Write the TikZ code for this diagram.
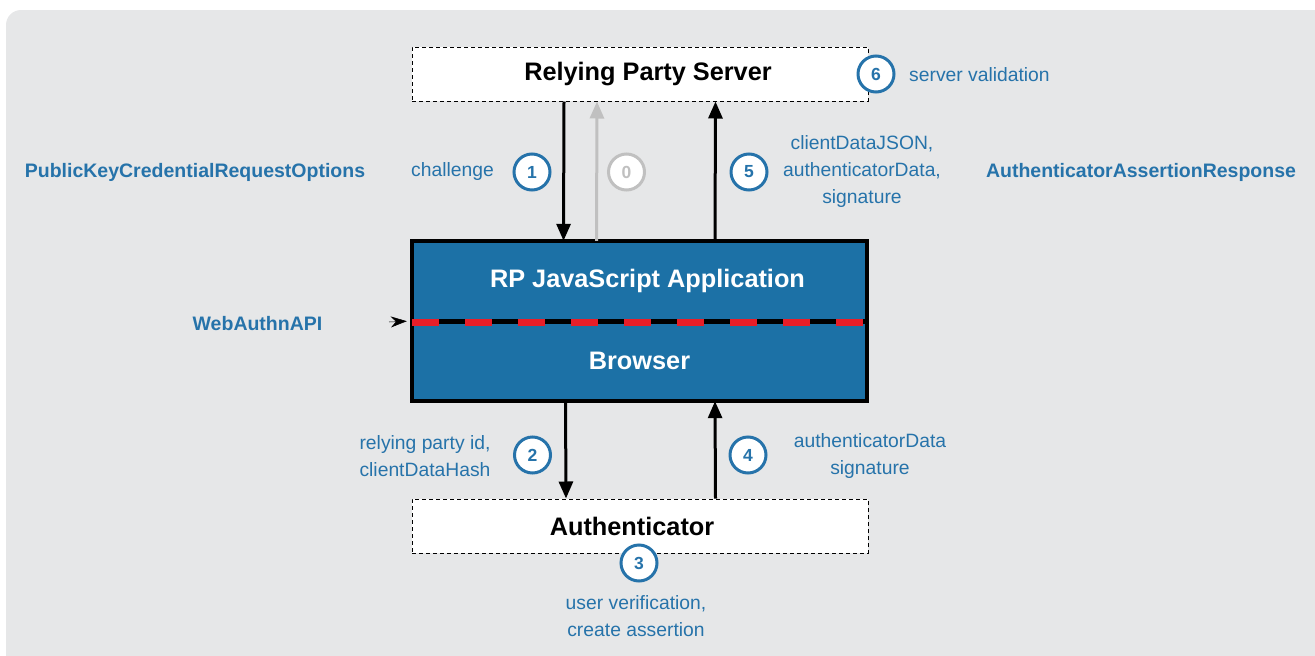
\documentclass[tikz,border=0pt]{standalone}
\usepackage{fontspec}
\setmainfont{Liberation Sans}
\usetikzlibrary{arrows.meta}
\definecolor{bggray}{RGB}{230,231,232}
\definecolor{wablue}{RGB}{38,115,170}
\definecolor{boxblue}{RGB}{28,113,166}
\definecolor{dashred}{RGB}{232,30,40}
\definecolor{ghost}{RGB}{192,192,192}
\begin{document}
\begin{tikzpicture}[x=1pt, y=-1pt,
    party/.style={draw, dash pattern=on 4pt off 3pt, line width=1pt, fill=white,
      minimum width=456pt, minimum height=54pt, inner sep=0pt,
      font=\fontsize{25.3}{30}\selectfont\bfseries},
    layer/.style={fill=boxblue, text=white, minimum width=455pt, minimum height=80pt,
      inner sep=0pt, font=\fontsize{25.3}{30}\selectfont\bfseries},
    stepnum/.style={circle, draw=wablue, line width=3pt, fill=white, minimum size=36pt,
      inner sep=0pt, text=wablue, font=\fontsize{17.5}{20}\selectfont\bfseries},
    note/.style={text=wablue, align=center, inner sep=0pt, font=\fontsize{19.3}{27}\selectfont},
    api/.style={text=wablue, inner sep=0pt, font=\fontsize{19.5}{23}\selectfont\bfseries},
    flow/.style={line width=3pt, -{Triangle[length=17pt,width=14pt]}}
  ]
  \useasboundingbox (0,0) rectangle (1315,656);
  \clip (0,0) rectangle (1315,656);
  % background
  \fill[bggray, rounded corners=15pt] (6,10) rectangle (1345,690);

  % parties
  \node[party] at (640,74) (rps) {\hspace*{16pt}Relying Party Server};
  \node[party] at (640,526) (auth) {\hspace*{-16pt}Authenticator};
  \node[layer] at (639.5,281) (app) {\hspace*{16pt}RP JavaScript Application};
  \node[layer] at (639.5,361) (brw) {Browser};
  \draw[line width=4pt] (app.north west) rectangle (brw.south east);
  \draw[line width=5pt] (app.south west) -- (app.south east);
  \draw[dashred, line width=6.5pt, dash pattern=on 27pt off 26pt]
    ([yshift=-1.5pt]app.south west) -- ([yshift=-1.5pt]app.south east);

  % edges
  \draw[flow] ([xshift=-76pt]rps.south) -- ([xshift=-76pt]app.north);
  \draw[flow, ghost] ([xshift=-43pt]app.north) -- ([xshift=-43pt]rps.south);
  \draw[flow] ([xshift=75.5pt]app.north) -- ([xshift=75.5pt]rps.south);
  \draw[flow] ([xshift=-74pt]brw.south) -- ([xshift=-74pt]auth.north);
  \draw[flow] ([xshift=75.5pt]auth.north) -- ([xshift=75.5pt]brw.south);
  \coordinate (apitail) at (389,322);
  \draw[-{Stealth[length=16pt,width=11pt]}, line width=0.5pt] (apitail) -- ([xshift=-5pt]app.south west);

  % steps
  \node[stepnum] at (532,172) (s1) {1};
  \node[stepnum, draw=ghost, text=ghost] at (626.5,172) (s0) {0};
  \node[stepnum] at (749,172) (s5) {5};
  \node[stepnum] at (876,74) (s6) {6};
  \node[stepnum] at (532.5,455) (s2) {2};
  \node[stepnum] at (748,455) (s4) {4};
  \node[stepnum] at (639,563) (s3) {3};

  % labels
  \node[note, anchor=east] at (494,172) (chal) {challenge};
  \node[note] at (862,172) (resp) {clientDataJSON,\\authenticatorData,\\signature};
  \node[note, anchor=west] at (909,75) (valid) {server validation};
  \node[note] at (425,456) (rpid) {relying party id,\\clientDataHash};
  \node[note] at (870,456) (adata) {authenticatorData\\signature};
  \node[note] at (636,616) (uv) {user verification,\\create assertion};
  \node[api] at (195,172) (opts) {PublicKeyCredentialRequestOptions};
  \node[api] at (1141,172) (assert) {AuthenticatorAssertionResponse};
  \node[api] at (257.5,324) (wapi) {WebAuthnAPI};
\end{tikzpicture}
\end{document}
